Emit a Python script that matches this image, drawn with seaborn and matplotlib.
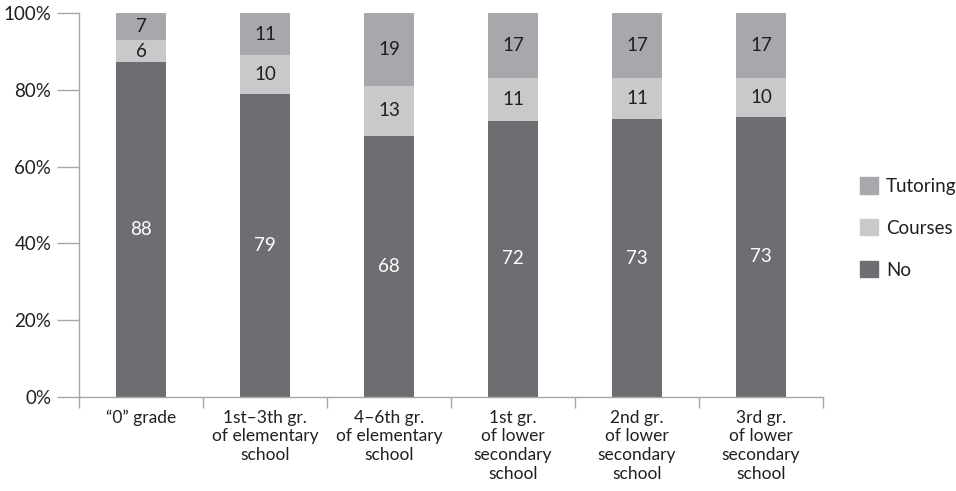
import numpy as np
import pandas as pd
import matplotlib
matplotlib.use("Agg")
import matplotlib.pyplot as plt
from matplotlib.patches import Patch
import seaborn as sns

categories = ["\u201c0\u201d grade", "1st\u20133th gr.\nof elementary\nschool",
              "4\u20136th gr.\nof elementary\nschool", "1st gr.\nof lower\nsecondary\nschool",
              "2nd gr.\nof lower\nsecondary\nschool", "3rd gr.\nof lower\nsecondary\nschool"]
no_vals = [88, 79, 68, 72, 73, 73]
courses_vals = [6, 10, 13, 11, 11, 10]
tutoring_vals = [7, 11, 19, 17, 17, 17]
y_ticks = [0, 20, 40, 60, 80, 100]
y_tick_labels = ["0%", "20%", "40%", "60%", "80%", "100%"]

c_no = "#6d6e71"
c_courses = "#c8c9cb"
c_tut = "#a7a8ab"

sns.set_theme(style="white")
plt.rcParams["font.family"] = ["Lato", "DejaVu Sans"]

no = np.array(no_vals, float)
co = np.array(courses_vals, float)
tu = np.array(tutoring_vals, float)
tot = no + co + tu
df = pd.DataFrame({
    "cat": categories,
    "no": no / tot * 100,
    "nc": (no + co) / tot * 100,
    "all": np.full(len(categories), 100.0),
})

fig = plt.figure(figsize=(9.56, 4.91), dpi=100)
ax = fig.add_axes([79/956, 1-397/491, (823-79)/956, (397-13)/491])

sns.barplot(data=df, x="cat", y="all", color=c_tut, width=0.4, saturation=1, ax=ax, linewidth=0)
sns.barplot(data=df, x="cat", y="nc", color=c_courses, width=0.4, saturation=1, ax=ax, linewidth=0)
sns.barplot(data=df, x="cat", y="no", color=c_no, width=0.4, saturation=1, ax=ax, linewidth=0)

fs = 13.5
for i in range(len(categories)):
    ax.text(i, df["no"][i] / 2, f"{no_vals[i]}", ha="center", va="center", color="white", fontsize=fs)
    ax.text(i, (df["no"][i] + df["nc"][i]) / 2, f"{courses_vals[i]}", ha="center", va="center", color="#231f20", fontsize=fs)
    ax.text(i, (df["nc"][i] + 100) / 2, f"{tutoring_vals[i]}", ha="center", va="center", color="#231f20", fontsize=fs)

ax.set_xlim(-0.5, len(categories) - 0.5)
ax.set_ylim(0, 100)
ax.set_yticks(y_ticks)
ax.set_yticklabels(y_tick_labels, fontsize=fs, color="#231f20")
ax.set_xticks(range(len(categories)))
ax.set_xticklabels(categories, fontsize=12.5, color="#231f20", linespacing=1.22)
ax.set_xticks(np.arange(-0.5, len(categories)), minor=True)
ax.tick_params(axis="x", which="major", length=0, pad=9)
ax.tick_params(axis="x", which="minor", length=8, width=1, color="#a6a6a6", direction="out", bottom=True)
ax.tick_params(axis="y", which="major", length=16, width=1, color="#a6a6a6", direction="out", left=True, pad=4)
ax.set_xlabel("")
ax.set_ylabel("")
for s in ["top", "right"]:
    ax.spines[s].set_visible(False)
for s in ["left", "bottom"]:
    ax.spines[s].set_color("#a6a6a6")
    ax.spines[s].set_linewidth(1)

handles = [Patch(color=c_tut, label="Tutoring"), Patch(color=c_courses, label="Courses"), Patch(color=c_no, label="No")]
leg = fig.legend(handles=handles, loc="center left", bbox_to_anchor=(843/956, 1-228/491), frameon=False,
                 fontsize=fs, handlelength=0.95, handleheight=0.95, labelspacing=1.3, handletextpad=0.45)
for t in leg.get_texts():
    t.set_color("#231f20")

fig.savefig("out.png", dpi=100)
